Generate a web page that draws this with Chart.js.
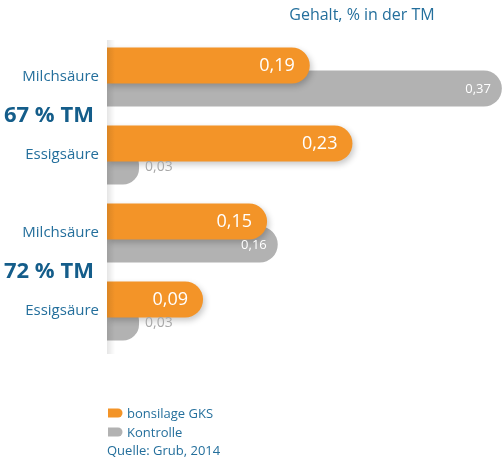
<!DOCTYPE html>
<html>
<head>
<meta charset="utf-8">
<script src="https://cdn.jsdelivr.net/npm/chart.js@4"></script>
<style>
  html, body { margin: 0; padding: 0; background: #fff; }
  #wrap { width: 504px; height: 458px; position: relative; }
</style>
</head>
<body>
<div id="wrap"><canvas id="chart" width="504" height="458"></canvas></div>
<script>
// categories (rows) and the dry matter group each belongs to
const categories = ['Milchsäure', 'Essigsäure', 'Milchsäure', 'Essigsäure'];
const groups = ['67 % TM', '72 % TM'];

// series values, % in DM
const bonsilage = [0.19, 0.23, 0.15, 0.09];
const kontrolle = [0.37, 0.03, 0.16, 0.03];

const seriesNames = ['bonsilage GKS', 'Kontrolle'];
const titleText = 'Gehalt, % in der TM';
const sourceText = 'Quelle: Grub, 2014';

const ORANGE = '#f39428';
const GREY = '#b2b2b2';
const BLUE = '#246f9c';
const DARKBLUE = '#145d8a';
const FONT = '"Open Sans", sans-serif';

// format number with german decimal comma
const fmt = v => v.toFixed(2).replace('.', ',');

// shadow under the orange bars
const shadowPlugin = {
    id: 'barShadow',
    beforeDatasetDraw(chart, args) {
        if (args.index !== 0) return;
        const ctx = chart.ctx;
        ctx.save();
        ctx.shadowColor = 'rgba(0,0,0,0.22)';
        ctx.shadowBlur = 6;
        ctx.shadowOffsetX = 2;
        ctx.shadowOffsetY = 3;
    },
    afterDatasetDraw(chart, args) {
        if (args.index !== 0) return;
        chart.ctx.restore();
    }
};

// value labels, panel shadow, group labels, title, legend and source
const textPlugin = {
    id: 'texts',
    afterDatasetsDraw(chart) {
        const ctx = chart.ctx;
        const area = chart.chartArea;

        // panel edge shadow
        ctx.save();
        const g = ctx.createLinearGradient(area.left, 0, area.left + 8, 0);
        g.addColorStop(0, 'rgba(0,0,0,0.10)');
        g.addColorStop(1, 'rgba(0,0,0,0)');
        ctx.fillStyle = g;
        ctx.fillRect(area.left, area.top + 2, 8, area.bottom - area.top + 2);
        ctx.restore();

        // value labels
        chart.data.datasets.forEach((ds, di) => {
            const meta = chart.getDatasetMeta(di);
            meta.data.forEach((bar, i) => {
                const v = ds.data[i];
                const len = bar.x - bar.base;
                ctx.save();
                ctx.textBaseline = 'middle';
                if (len < 60) {
                    ctx.font = '14px ' + FONT;
                    ctx.fillStyle = '#a8a8a8';
                    ctx.textAlign = 'left';
                    ctx.fillText(fmt(v), bar.x + 6, bar.y + 1);
                } else if (di === 0) {
                    ctx.font = '18px ' + FONT;
                    ctx.fillStyle = '#fff';
                    ctx.textAlign = 'right';
                    ctx.fillText(fmt(v), bar.x - 15, bar.y);
                } else {
                    ctx.font = '13px ' + FONT;
                    ctx.fillStyle = '#fff';
                    ctx.textAlign = 'right';
                    ctx.fillText(fmt(v), bar.x - 11, bar.y + 1);
                }
                ctx.restore();
            });
        });
    },
    afterDraw(chart) {
        const ctx = chart.ctx;
        const y = chart.scales.y;
        ctx.save();

        // group labels between their two rows
        ctx.font = 'bold 22px ' + FONT;
        ctx.fillStyle = DARKBLUE;
        ctx.textAlign = 'left';
        ctx.textBaseline = 'middle';
        groups.forEach((label, gi) => {
            const mid = (y.getPixelForValue(gi * 2) + y.getPixelForValue(gi * 2 + 1)) / 2;
            ctx.fillText(label, 4, mid);
        });

        // title
        ctx.font = '16px ' + FONT;
        ctx.fillStyle = BLUE;
        ctx.textAlign = 'center';
        ctx.fillText(titleText, 362, 15);

        // legend
        ctx.font = '13px ' + FONT;
        ctx.textAlign = 'left';
        chart.data.datasets.forEach((ds, di) => {
            const ly = 413 + di * 19;
            ctx.fillStyle = ds.backgroundColor;
            ctx.beginPath();
            ctx.moveTo(108, ly - 4.5);
            ctx.lineTo(118, ly - 4.5);
            ctx.arc(118, ly, 4.5, -Math.PI / 2, Math.PI / 2);
            ctx.lineTo(108, ly + 4.5);
            ctx.closePath();
            ctx.fill();
            ctx.fillStyle = BLUE;
            ctx.fillText(ds.label, 127, ly + 1);
        });
        ctx.fillText(sourceText, 107, 451);
        ctx.restore();
    }
};

const ctx = document.getElementById('chart').getContext('2d');
new Chart(ctx, {
    type: 'bar',
    data: {
        labels: categories,
        datasets: [
            {
                label: seriesNames[0],
                data: bonsilage,
                backgroundColor: ORANGE,
                borderRadius: { topLeft: 0, bottomLeft: 0, topRight: 18, bottomRight: 18 },
                borderSkipped: 'start',
            },
            {
                label: seriesNames[1],
                data: kontrolle,
                backgroundColor: GREY,
                borderRadius: { topLeft: 0, bottomLeft: 0, topRight: 18, bottomRight: 18 },
                borderSkipped: 'start',
            },
        ],
    },
    options: {
        indexAxis: 'y',
        responsive: false,
        animation: false,
        categoryPercentage: 0.59,
        barPercentage: 1.565,
        layout: { padding: { top: 38, bottom: 108, left: 0, right: 0 } },
        plugins: {
            legend: { display: false },
            tooltip: { enabled: false },
            title: { display: false },
        },
        scales: {
            x: {
                display: false,
                min: 0,
                max: 0.372,
            },
            y: {
                grid: { display: false, drawTicks: false },
                border: { display: false },
                ticks: {
                    color: BLUE,
                    font: { family: FONT, size: 15 },
                    padding: 8,
                },
                afterFit: scale => { scale.width = 107; },
            },
        },
    },
    plugins: [shadowPlugin, textPlugin],
});
</script>
</body>
</html>
